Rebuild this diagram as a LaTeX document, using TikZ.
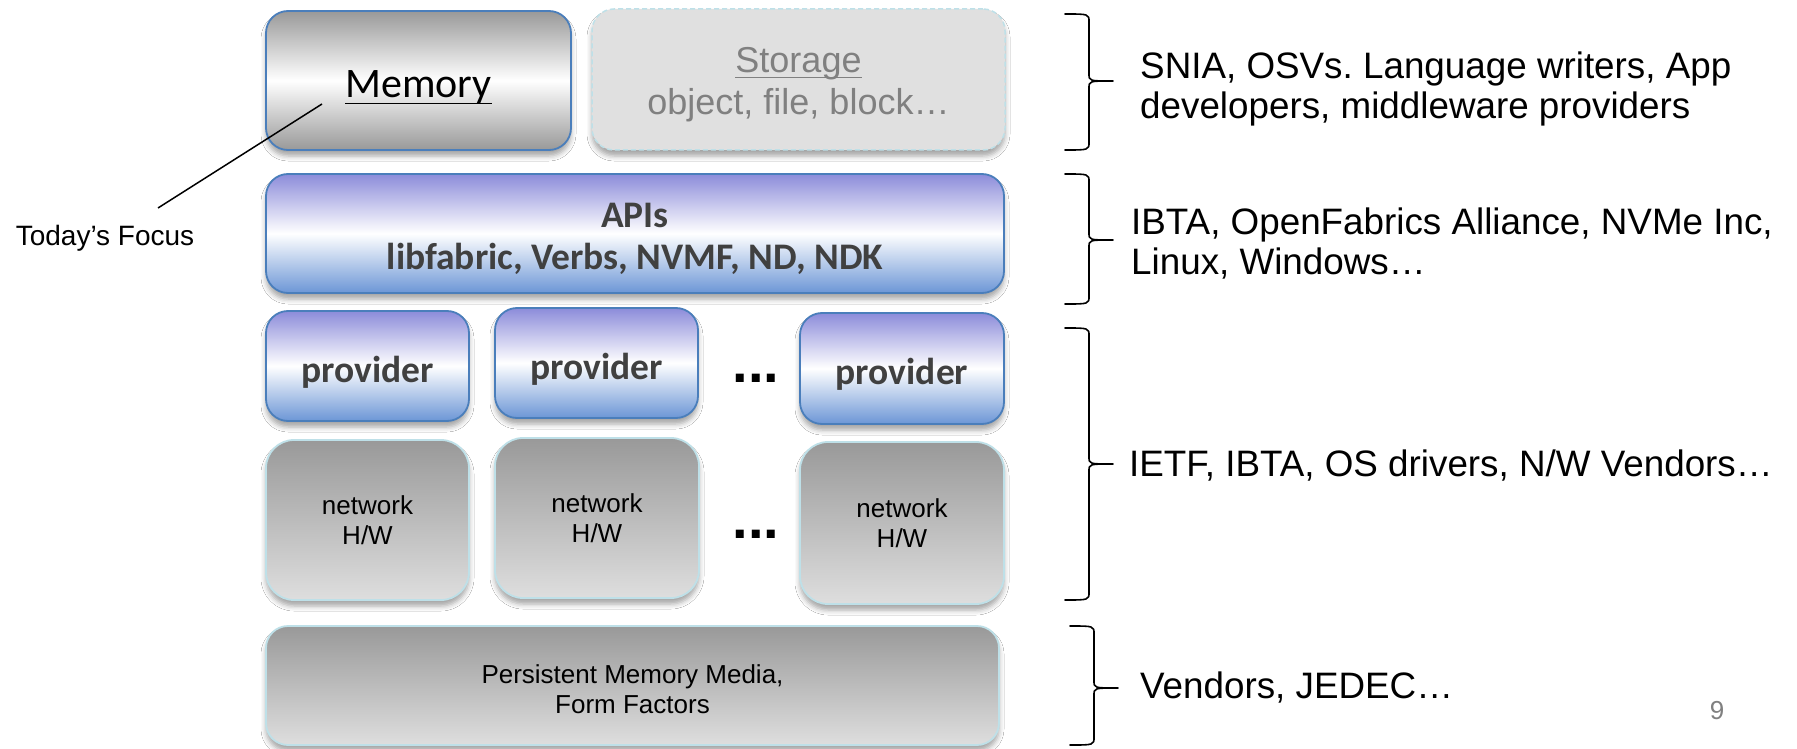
\documentclass[tikz,border=0pt]{standalone}
\usepackage{fontspec}
\setmainfont{Liberation Sans}
\newfontfamily\calibri{Carlito}
\usetikzlibrary{shadows.blur}
\frenchspacing

\definecolor{edgeblue}{RGB}{74,126,187}
\definecolor{edgecyan}{RGB}{190,224,232}
\definecolor{lavender}{RGB}{140,140,218}
\definecolor{skyblue}{RGB}{108,150,214}
\definecolor{midgray}{RGB}{153,153,153}
\definecolor{lightgray}{RGB}{222,222,222}
\definecolor{storagefill}{RGB}{224,224,224}
\definecolor{darktext}{RGB}{64,64,64}
\definecolor{softtext}{RGB}{128,128,128}

% underline with a chosen rule thickness
\newcommand\ulined[2]{\setbox0\hbox{#2}\rlap{\rule[-0.16em]{\wd0}{#1}}\box0}

\tikzset{
  softshadow/.style={blur shadow={shadow xshift=0pt, shadow yshift=-6pt,
      shadow blur radius=5pt, shadow opacity=35}},
  layerbox/.style={rectangle, inner sep=0pt, softshadow},
  memorybox/.style={layerbox, rounded corners=22pt, draw=edgeblue, line width=1.8pt,
      top color=midgray, bottom color=midgray, middle color=white},
  storagebox/.style={layerbox, rounded corners=22pt, draw=edgecyan, dashed,
      dash pattern=on 5pt off 3pt, line width=1.5pt, fill=storagefill},
  apibox/.style={layerbox, rounded corners=22pt, draw=edgeblue, line width=1.8pt,
      top color=lavender, bottom color=skyblue, middle color=white},
  hwbox/.style={layerbox, rounded corners=28pt, draw=edgecyan, line width=1.8pt,
      top color=midgray, bottom color=lightgray},
  mediabox/.style={hwbox, rounded corners=22pt},
  boxtext/.style={inner sep=0pt, align=center},
  memtext/.style={boxtext, font=\calibri\fontsize{42}{46}\selectfont},
  storetext/.style={boxtext, text=softtext, font=\fontsize{36}{42}\selectfont},
  apitext/.style={boxtext, text=darktext, font=\calibri\bfseries\fontsize{37.5}{42}\selectfont},
  hwtext/.style={boxtext, font=\fontsize{26}{30}\selectfont},
  gap/.style={anchor=base, inner sep=0pt, font=\bfseries\fontsize{56}{56}\selectfont},
  remark/.style={anchor=west, align=left, inner sep=0pt,
      font=\fontsize{36.8}{40}\selectfont},
  bracepath/.style={line width=1.6pt, line cap=round, line join=round},
}

% right-facing brace: end x, stem x, tip x, top y, middle y, bottom y
\newcommand\groupbrace[6]{%
  \draw[bracepath] (#1,#4) .. controls (#2,#4) .. (#2,#4+8)
    -- (#2,#5-7) .. controls (#2,#5) .. (#3,#5)
    .. controls (#2,#5) .. (#2,#5+7)
    -- (#2,#6-8) .. controls (#2,#6) .. (#1,#6);}

\begin{document}
\begin{tikzpicture}[x=1pt, y=-1pt]
\useasboundingbox[fill=white] (0,0) rectangle (1797,749);

% top row
\node[memorybox, minimum width=305pt, minimum height=139pt] (memory) at (418.5,80.5) {};
\node[memtext] (memorylabel) at ([yshift=-7pt]memory.center) {\ulined{1.6pt}{Memory}};
\node[storagebox, minimum width=413pt, minimum height=141pt] (storage) at (798.5,79.5) {};
\node[storetext] (storagelabel) at ([yshift=-5pt]storage.center)
  {\ulined{1.4pt}{Storage}\\object, file, block…};

% API layer
\node[apibox, minimum width=738pt, minimum height=119pt] (apis) at (635,233.5) {};
\node[apitext] (apislabel) at ([yshift=-5pt]apis.center) {APIs\\libfabric, Verbs, NVMF, ND, NDK};

% providers
\node[apibox, minimum width=203pt, minimum height=110pt] (prov1) at (367.5,366) {};
\node[apibox, minimum width=203pt, minimum height=110pt] (prov2) at (596.5,363) {};
\node[apibox, minimum width=204pt, minimum height=111pt] (prov3) at (902,368.5) {};
\node[apitext] (prov1label) at ([yshift=-6pt]prov1.center) {provider};
\node[apitext] (prov2label) at ([yshift=-6pt]prov2.center) {provider};
\node[apitext] (prov3label) at ([yshift=-6pt]prov3.center) {provider};
\node[gap] (pdots) at (756,382) {...};

% network hardware
\node[hwbox, minimum width=203pt, minimum height=160pt] (net1) at (367.5,520) {};
\node[hwbox, minimum width=204pt, minimum height=160pt] (net2) at (597,518) {};
\node[hwbox, minimum width=204pt, minimum height=162pt] (net3) at (902,523) {};
\node[hwtext] (net1label) at (net1.center) {network\\H/W};
\node[hwtext] (net2label) at (net2.center) {network\\H/W};
\node[hwtext] (net3label) at (net3.center) {network\\H/W};
\node[gap] (ndots) at (756,538) {...};

% media
\node[mediabox, minimum width=733pt, minimum height=119pt] (media) at (632.5,685.5) {};
\node[hwtext] (medialabel) at ([yshift=-3.5pt]media.center) {Persistent Memory Media,\\Form Factors};

% focus label and its leader line
\node[inner sep=0pt, font=\fontsize{28}{32}\selectfont] (focus) at (105,238) {Today’s Focus};
\coordinate (focusend) at (158,208);
\coordinate (memtip) at (322,104);
\draw[line width=1.5pt] (focusend) -- (memtip);

% braces and the groups they name
\groupbrace{1065}{1089}{1113}{14}{81}{150}
\groupbrace{1065}{1089}{1113}{174}{240}{304}
\groupbrace{1065}{1089}{1113}{328}{464}{600}
\groupbrace{1070}{1094}{1118}{626}{688}{745}

\node[remark] (g1) at (1140,89) {SNIA, OSVs. Language writers, App\\developers, middleware providers};
\node[remark] (g2) at (1131,244) {IBTA, OpenFabrics Alliance, NVMe Inc,\\Linux, Windows…};
\node[remark] (g3) at (1129,466) {IETF, IBTA, OS drivers, N/W Vendors…};
\node[remark] (g4) at (1140,688) {Vendors, JEDEC…};

\node[text=softtext, inner sep=0pt, font=\fontsize{26}{30}\selectfont] (pageno) at (1717,711) {9};
\end{tikzpicture}
\end{document}
